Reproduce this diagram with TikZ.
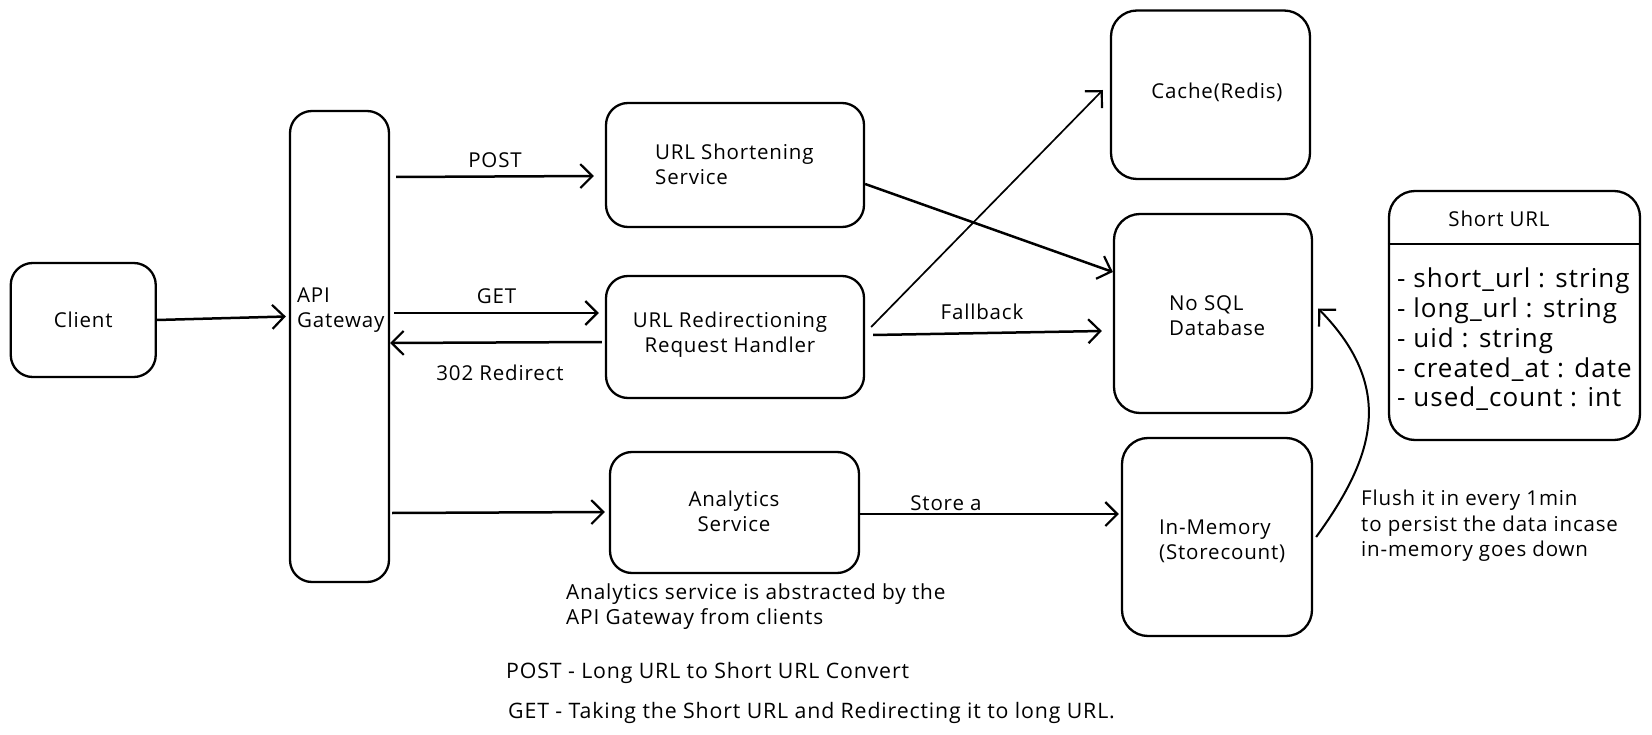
\documentclass[tikz,border=0pt]{standalone}
\usepackage{fontspec}
\setmainfont{Open Sans}[LetterSpace=4]
\usetikzlibrary{arrows.meta,calc}
\begin{document}
\begin{tikzpicture}[x=1pt,y=1pt,
  box/.style={draw, line width=2.3pt, rounded corners=22pt, inner sep=0pt},
  arr/.style={line width=2.5pt, -{Straight Barb[length=12pt,width=24pt,line width=2.2pt]}},
  txt/.style={font=\fontsize{20.5}{25}\selectfont, align=left, inner sep=0pt},
  ctxt/.style={font=\fontsize{20.5}{25}\selectfont, align=center, inner sep=0pt},
  big/.style={font=\fontsize{26}{29.75}\selectfont, align=left, inner sep=0pt}]
\useasboundingbox (0,0) rectangle (1652,-735);

% boxes
\node[box, minimum width=145, minimum height=114] (client) at (83.25,-320) {};
\node[box, minimum width=99, minimum height=471] (api) at (339.5,-346.5) {};
\node[box, minimum width=258, minimum height=124] (short) at (735,-165) {};
\node[box, minimum width=258, minimum height=122] (redir) at (735,-337) {};
\node[box, minimum width=249, minimum height=121] (anal) at (734.5,-512.5) {};
\node[box, minimum width=199, minimum height=168.5, rounded corners=26pt] (cache) at (1210.5,-94.75) {};
\node[box, minimum width=198, minimum height=199, rounded corners=26pt] (nosql) at (1213,-313.5) {};
\node[box, minimum width=190, minimum height=198, rounded corners=26pt] (inmem) at (1217,-537) {};
\node[box, minimum width=251, minimum height=249, rounded corners=26pt] (table) at (1514.5,-315.5) {};
\coordinate (divL) at (table.west |- 0,-244);
\coordinate (divR) at (table.east |- 0,-244);
\draw[line width=2.3pt] (divL) -- (divR);

% box texts
\node[ctxt] (tclient) at (client.center) {Client};
\node[txt, anchor=west] (tapi) at (297,-310) {API\\Gateway};
\node[txt, anchor=west] (tshort) at (655,-164) {URL Shortening\\Service};
\node[ctxt] (tredir) at (730,-335) {URL Redirectioning\\Request Handler};
\node[ctxt] (tanal) at (734,-511) {Analytics\\Service};
\node[ctxt] (tcache) at (1217,-92) {Cache(Redis)};
\node[txt, anchor=west] (tnosql) at (1169,-316) {No SQL\\Database};
\node[txt, anchor=west] (tinmem) at (1159,-541) {In-Memory\\(Storecount)};
\node[ctxt] (ttable) at (1499,-219) {Short URL};
\node[big, anchor=west] (titems) at (1397,-339.5) {- short\_url : string\\- long\_url : string\\- uid : string\\- created\_at : date\\- used\_count : int};

% connectors
\draw[arr] (client.east) -- ([shift={(-3,30)}]api.west);
\draw[arr] ([shift={(6,169.5)}]api.east) -- ([shift={(-11,-11)}]short.west)
  node[pos=0.5, above=8pt, ctxt] (lpost) {POST};
\draw[arr] ([shift={(4,33.5)}]api.east) -- ([shift={(-6,24)}]redir.west)
  node[pos=0.5, above=8pt, ctxt] (lget) {GET};
\draw[arr] ([shift={(-3,-5)}]redir.west) -- ([shift={(0,3.5)}]api.east);
\node[ctxt] (lredirect) at (500,-373) {302 Redirect};
\draw[arr] ([shift={(2,-166.5)}]api.east) -- ([shift={(-4,0.5)}]anal.west);
\draw[arr] ([shift={(0,-19)}]short.east) -- ([shift={(0,41.5)}]nosql.west);
\draw[arr, line width=1.7pt] ([shift={(6,10)}]redir.east) -- ([shift={(-7,4.75)}]cache.west);
\draw[arr] ([shift={(8,2)}]redir.east) -- ([shift={(-11,-17.5)}]nosql.west);
\node[ctxt] (lfall) at (982,-312) {Fallback};
\draw[arr] ([shift={(0,-1.5)}]anal.east) -- ([shift={(-2,23)}]inmem.west);
\node[ctxt, anchor=base] (lstore) at (946,-510) {Store a};
\draw[arr, line width=2pt] ([xshift=3]inmem.east) .. controls (1372,-460) and (1398,-390) .. ([shift={(5,5)}]nosql.east);

% notes
\node[txt, anchor=west, font=\fontsize{20.5}{25.5}\selectfont] (nflush) at (1361,-526) {Flush it in every 1min\\to persist the data incase\\in-memory goes down};
\node[txt, anchor=west, font=\fontsize{20.8}{25}\selectfont] (nanal) at (566,-607) {Analytics service is abstracted by the\\API Gateway from clients};
\node[txt, anchor=west, font=\fontsize{21.3}{25}\selectfont] (npost) at (506,-673) {POST - Long URL to Short URL Convert};
\node[txt, anchor=west, font=\fontsize{21.3}{25}\selectfont] (nget) at (508,-713) {GET - Taking the Short URL and Redirecting it to long URL.};
\end{tikzpicture}
\end{document}
